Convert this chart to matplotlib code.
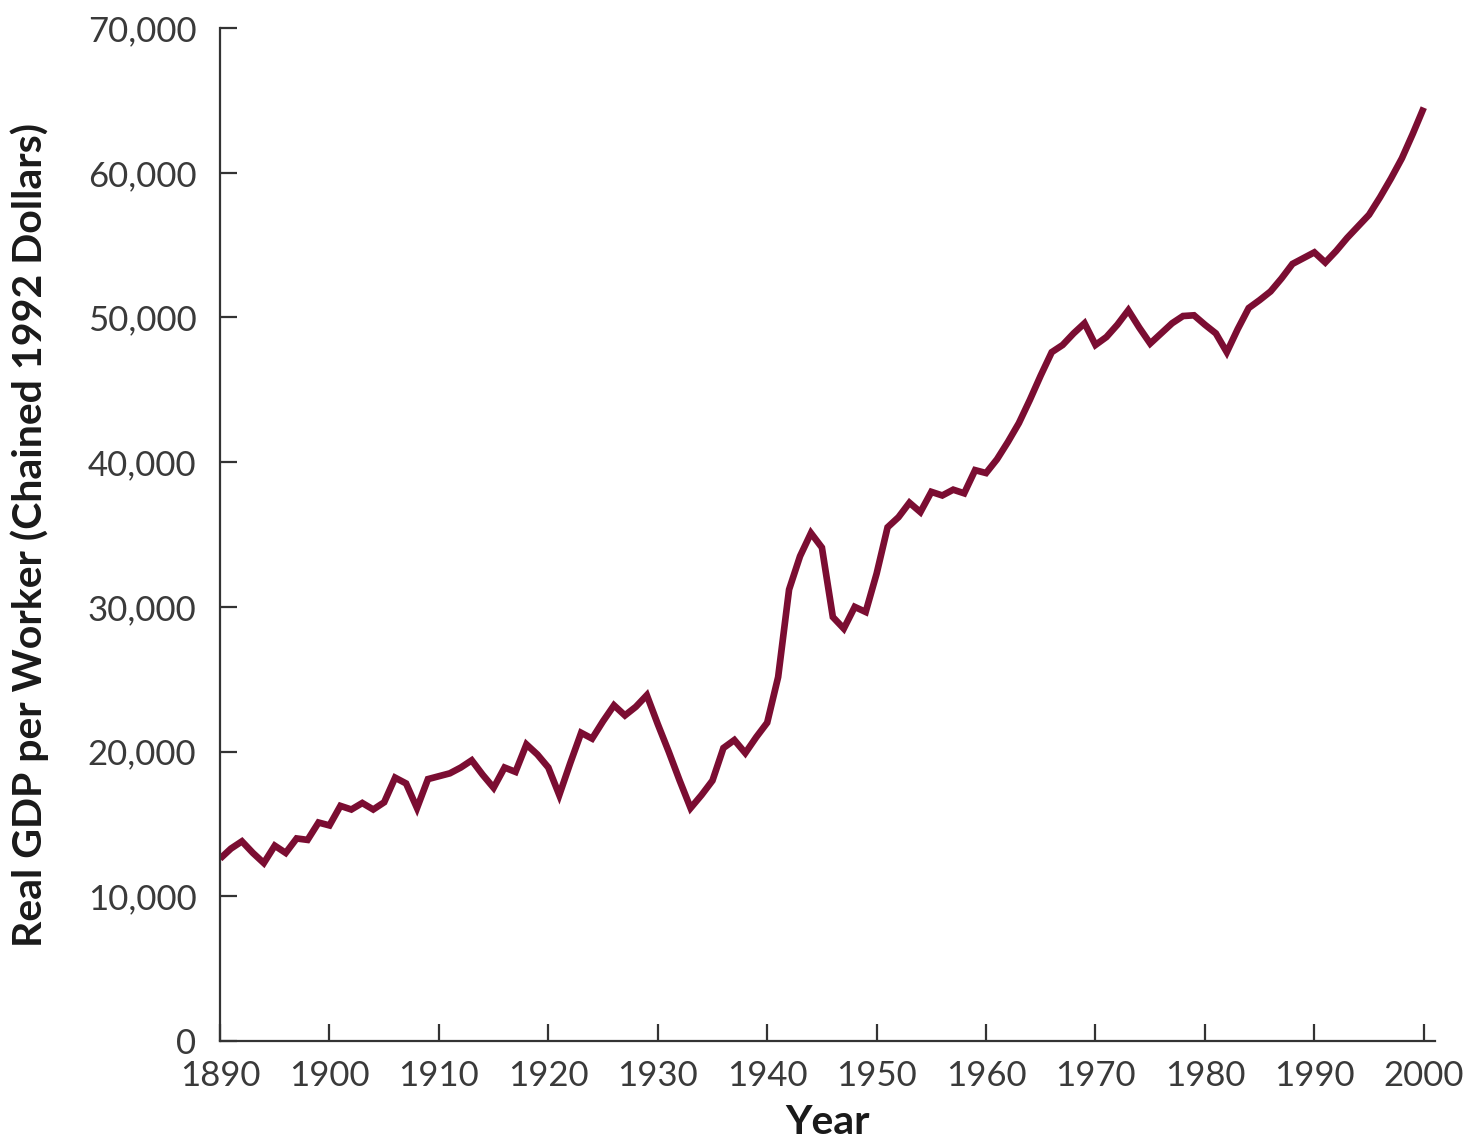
import matplotlib.pyplot as plt
from matplotlib.ticker import FuncFormatter

# real GDP per worker, chained 1992 dollars
years = list(range(1890, 2001))
gdp_per_worker = [
    12600, 13300, 13800, 13000, 12300, 13500, 13000, 14000, 13900, 15100,  # 1890s
    14900, 16250, 16000, 16450, 16000, 16500, 18200, 17800, 16100, 18100,  # 1900s
    18300, 18500, 18900, 19400, 18400, 17500, 18900, 18600, 20500, 19800,  # 1910s
    18900, 17000, 19200, 21300, 20900, 22100, 23200, 22500, 23100, 23900,  # 1920s
    21900, 20000, 18000, 16100, 17000, 18000, 20250, 20800, 19900, 21000,  # 1930s
    22000, 25150, 31200, 33500, 35100, 34100, 29300, 28500, 30000, 29650,  # 1940s
    32300, 35500, 36200, 37200, 36550, 37950, 37700, 38100, 37850, 39450,  # 1950s
    39250, 40200, 41400, 42700, 44300, 46000, 47600, 48100, 48900, 49600,  # 1960s
    48100, 48650, 49500, 50500, 49300, 48200, 48900, 49600, 50100, 50150,  # 1970s
    49500, 48900, 47600, 49200, 50650, 51200, 51800, 52700, 53700, 54100,  # 1980s
    54500, 53800, 54600, 55500, 56300, 57100, 58300, 59600, 61000, 62700,  # 1990s
    64500,
]
x_ticks = list(range(1890, 2001, 10))
y_ticks = list(range(0, 70001, 10000))

line_color = '#7B0D32'
axis_color = '#333333'
plt.rcParams['font.family'] = ['Lato', 'DejaVu Sans']

fig = plt.figure(figsize=(14.64, 11.4), dpi=100)
ax = fig.add_axes((0.1503, 0.0868, 0.8297, 0.8886))

ax.plot(years, gdp_per_worker, color=line_color, lw=4.8, solid_joinstyle='miter',
        solid_capstyle='butt')

ax.set_xlim(1890, 2001)
ax.set_ylim(0, 70000)
ax.set_xticks(x_ticks)
ax.set_yticks(y_ticks)
ax.yaxis.set_major_formatter(FuncFormatter(lambda v, p: f'{int(v):,}'))

ax.spines[['top', 'right']].set_visible(False)
for s in ['left', 'bottom']:
    ax.spines[s].set_color(axis_color)
    ax.spines[s].set_linewidth(1.6)

ax.tick_params(axis='both', direction='in', length=12, width=1.6, color=axis_color,
               labelsize=25, labelcolor='#3a3a3a')
ax.tick_params(axis='y', pad=17)
ax.tick_params(axis='x', pad=14)

ax.set_ylabel('Real GDP per Worker (Chained 1992 Dollars)', fontsize=29.5,
              fontweight='bold', color='#1a1a1a', labelpad=28)
ax.set_xlabel('Year', fontsize=29.5, fontweight='bold', color='#1a1a1a', labelpad=8)

fig.savefig('out.png', dpi=100)
